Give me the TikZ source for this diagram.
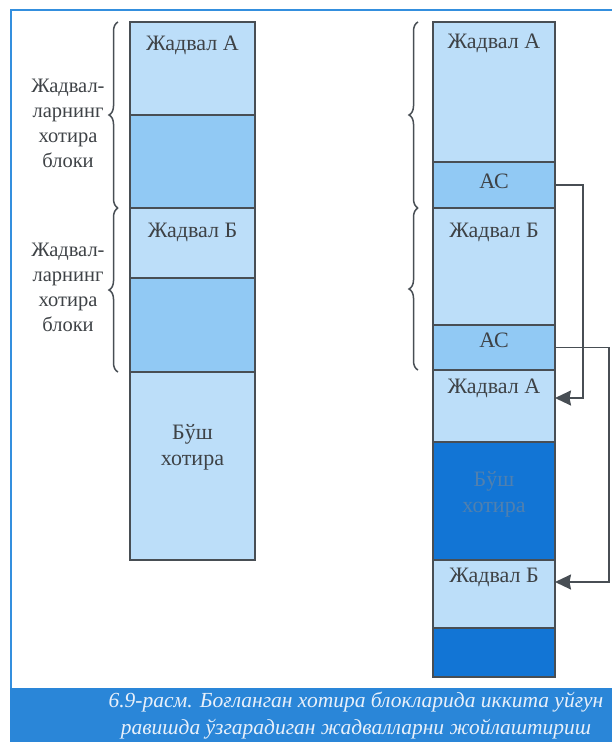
\documentclass[tikz,border=0pt]{standalone}
\usepackage{fontspec}
\setmainfont{Liberation Serif}
\usetikzlibrary{decorations.pathreplacing,arrows.meta,calc}
\definecolor{lite}{RGB}{188,222,249}
\definecolor{midb}{RGB}{145,201,244}
\definecolor{deep}{RGB}{18,117,213}
\definecolor{edgec}{RGB}{72,78,84}
\definecolor{ink}{RGB}{62,66,70}
\definecolor{framec}{RGB}{52,143,222}
\definecolor{band}{RGB}{42,134,216}
\definecolor{captxt}{RGB}{232,240,250}
\definecolor{deeptxt}{RGB}{80,128,175}
\tikzset{
  seg/.style={rectangle, draw=edgec, line width=2.3pt, inner sep=0pt, outer sep=0pt},
  lseg/.style={seg, minimum width=125pt},
  rseg/.style={seg, minimum width=122pt},
  txt/.style={font=\fontsize{22}{26}\selectfont, text=ink, inner sep=0pt, align=center},
  lbl/.style={font=\fontsize{20.5}{25}\selectfont, text=ink, inner sep=0pt, align=center},
  brc/.style={decorate, decoration={brace, amplitude=9pt}, draw=edgec, line width=1.5pt},
  conn/.style={draw=edgec, line width=1.8pt, -{Stealth[length=16pt,width=15pt,inset=1.5pt]}},
}
\begin{document}
\begin{tikzpicture}[x=1pt,y=-1pt]
\useasboundingbox (0,0) rectangle (612,742);
% frame and caption band
\draw[framec, line width=2.5pt] (11,688) -- (11,10) -- (612,10);
\fill[band] (9.5,688) rectangle (612,742);
\node[font=\itshape\fontsize{21.5}{27}\selectfont, text=captxt, align=center, inner sep=0pt] (cap) at (356,716)
  {6.9-расм. Боғланган хотира блокларида иккита уйғун\\равишда ўзгарадиган жадвалларни жойлаштириш};
% left column
\node[lseg, fill=lite, minimum height=93pt] (L1) at (192.5,68.5) {};
\node[lseg, fill=midb, minimum height=93pt] (L2) at (192.5,161.5) {};
\node[lseg, fill=lite, minimum height=70pt] (L3) at (192.5,243) {};
\node[lseg, fill=midb, minimum height=94pt] (L4) at (192.5,325) {};
\node[lseg, fill=lite, minimum height=188pt] (L5) at (192.5,466) {};
\node[txt] (tL1) at (192.5,45) {Жадвал А};
\node[txt] (tL3) at (192.5,232) {Жадвал Б};
\node[txt] (tL5) at (192.5,447) {Бўш\\хотира};
% right column
\node[rseg, fill=lite, minimum height=140pt] (R1) at (494,92) {};
\node[rseg, fill=midb, minimum height=46pt] (R2) at (494,185) {};
\node[rseg, fill=lite, minimum height=117pt] (R3) at (494,266.5) {};
\node[rseg, fill=midb, minimum height=45pt] (R4) at (494,347.5) {};
\node[rseg, fill=lite, minimum height=72pt] (R5) at (494,406) {};
\node[rseg, fill=deep, minimum height=118pt] (R6) at (494,501) {};
\node[rseg, fill=lite, minimum height=68pt] (R7) at (494,594) {};
\node[rseg, fill=deep, minimum height=49pt] (R8) at (494,652.5) {};
\node[txt] (tR1) at (494,43) {Жадвал А};
\node[txt] (tR2) at (494,181) {АС};
\node[txt] (tR3) at (494,232) {Жадвал Б};
\node[txt] (tR4) at (494,340) {АС};
\node[txt] (tR5) at (494,388) {Жадвал А};
\node[txt, text=deeptxt] (tR6) at (494,494) {Бўш\\хотира};
\node[txt] (tR7) at (494,577) {Жадвал Б};
% braces
\draw[brc] (118,208) -- (118,22);
\draw[brc] (118,372) -- (118,208);
\draw[brc] (418,208) -- (418,22);
\draw[brc] (418,370) -- (418,208);
% brace labels
\node[lbl] (g1) at (68,123) {Жадвал-\\ларнинг\\хотира\\блоки};
\node[lbl] (g2) at (68,287) {Жадвал-\\ларнинг\\хотира\\блоки};
% connectors
\coordinate (k1) at (583,398);
\coordinate (k2) at (609,582);
\draw[conn] (R2.east) -| (k1) -- (k1 -| R5.east);
\draw[conn] (R4.east) -| (k2) -- (k2 -| R7.east);
\end{tikzpicture}
\end{document}
